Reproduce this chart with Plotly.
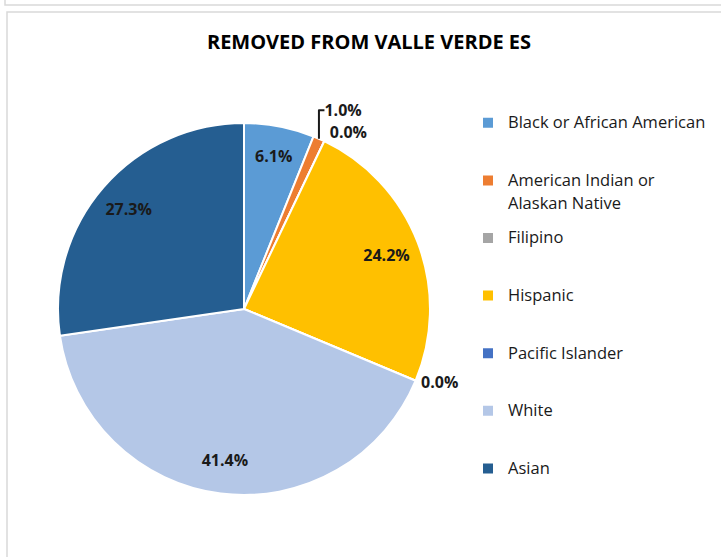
import plotly.graph_objects as go

categories = ["Black or African American", "American Indian or<br>Alaskan Native", "Filipino",
              "Hispanic", "Pacific Islander", "White", "Asian"]
values = [6.1, 1.0, 0.0, 24.2, 0.0, 41.4, 27.3]
colors = ["#5B9BD5", "#ED7D31", "#A5A5A5", "#FFC000", "#4472C4", "#B4C7E7", "#255E91"]
positions = ["inside", "outside", "outside", "inside", "outside", "inside", "inside"]

W, H = 721, 557
def px(x): return x / W
def py(y): return 1 - y / H

def legend_label(c):
    lines = c.split("<br>")
    parts = ['<span style="font-size:16.5px">%s</span>' % lines[0]]
    for l in lines[1:]:
        parts.append('<span style="font-size:16.5px;baseline-shift:-5px">%s</span>' % l)
    body = "<br>".join(parts)
    return " <br>" + body + ("" if len(lines) > 1 else "<br> ")

legend_labels = [legend_label(c) for c in categories]
dom = dict(x=[px(58), px(430)], y=[py(495), py(123)])

fig = go.Figure()
fig.add_trace(go.Pie(
    labels=legend_labels, values=values, sort=False, direction="clockwise", rotation=0,
    marker=dict(colors=colors, line=dict(color="white", width=2)),
    textinfo="none", domain=dom, showlegend=True,
))
# text-only overlay: the hole pushes inside labels outward like the original
fig.add_trace(go.Pie(
    labels=legend_labels, values=values, sort=False, direction="clockwise", rotation=0,
    hole=0.64,
    marker=dict(colors=["rgba(0,0,0,0)"] * len(values), line=dict(width=0)),
    textposition=positions, texttemplate="%{value:.1f}%",
    textfont=dict(family="Open Sans", size=16, color="#1a1a1a", weight="bold"),
    insidetextorientation="horizontal",
    domain=dom, showlegend=False, hoverinfo="skip",
))

fig.update_layout(
    width=W, height=H,
    margin=dict(l=0, r=0, t=0, b=0),
    paper_bgcolor="white",
    title=dict(text="<b>REMOVED FROM VALLE VERDE ES</b>", x=px(369), xanchor="center",
               y=py(42), yanchor="middle",
               font=dict(family="Open Sans", size=20, color="#000")),
    legend=dict(x=px(468), xanchor="left", y=py(89), yanchor="top",
                font=dict(family="Open Sans", size=14, color="#1a1a1a"),
                bgcolor="rgba(0,0,0,0)"),
    shapes=[
        dict(type="rect", xref="paper", yref="paper", x0=px(7), y0=py(12), x1=px(740), y1=py(580),
             line=dict(color="#d9d9d9", width=1.5)),
        dict(type="rect", xref="paper", yref="paper", x0=px(5), y0=py(-20), x1=px(740), y1=py(5),
             line=dict(color="#d9d9d9", width=1.5)),
    ],
)

fig.write_html("out.html", config={"displayModeBar": False},
               post_script="document.body.style.margin='0';")
